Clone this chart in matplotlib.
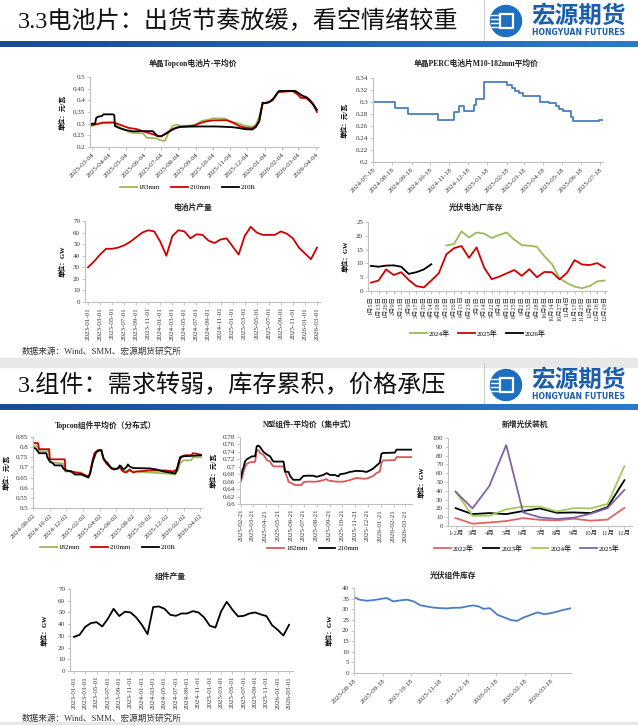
import numpy as np
import pandas as pd
import matplotlib
matplotlib.use('Agg')
import matplotlib.pyplot as plt
import matplotlib.ticker as mticker
from matplotlib.patches import Circle, Rectangle
from matplotlib.colors import LinearSegmentedColormap

plt.rcParams['font.family'] = ['Liberation Serif', 'Noto Sans CJK SC']
plt.rcParams['axes.unicode_minus'] = False

# ---------------- 数据 ----------------
# 单晶Topcon电池片-平均价
a_183_dates = ['2025-03-01', '2025-03-16', '2025-04-12', '2025-04-18', '2025-05-11', '2025-06-03', '2025-06-09',
               '2025-06-29', '2025-07-02', '2025-07-11', '2025-07-14', '2025-07-19', '2025-07-25', '2025-08-01',
               '2025-08-10', '2025-08-25', '2025-09-05', '2025-09-15', '2025-09-28', '2025-10-04', '2025-10-25',
               '2025-11-05', '2025-11-20', '2025-12-01', '2025-12-13', '2025-12-19', '2025-12-25', '2025-12-31',
               '2026-01-06', '2026-01-12', '2026-01-20', '2026-01-26', '2026-01-29', '2026-02-27', '2026-03-05',
               '2026-03-11', '2026-03-19', '2026-03-25', '2026-03-31', '2026-04-06']
a_183 = [0.29, 0.30, 0.305, 0.29, 0.262, 0.258, 0.24, 0.236, 0.23, 0.226, 0.24, 0.267, 0.29, 0.296, 0.29,
         0.292, 0.298, 0.312, 0.318, 0.323, 0.322, 0.31, 0.30, 0.29, 0.287, 0.295, 0.33, 0.385, 0.39, 0.392,
         0.41, 0.43, 0.44, 0.44, 0.43, 0.42, 0.415, 0.40, 0.385, 0.355]
a_210_dates = ['2025-03-01', '2025-03-07', '2025-03-16', '2025-03-25', '2025-04-12', '2025-04-18', '2025-04-27',
               '2025-05-08', '2025-05-22', '2025-06-03', '2025-06-20', '2025-06-29', '2025-07-05', '2025-07-14',
               '2025-07-26', '2025-08-06', '2025-08-18', '2025-09-02', '2025-09-11', '2025-09-23', '2025-10-04',
               '2025-10-28', '2025-11-08', '2025-11-20', '2025-12-01', '2025-12-13', '2025-12-19', '2025-12-25',
               '2025-12-31', '2026-01-06', '2026-01-18', '2026-01-27', '2026-02-22', '2026-03-03', '2026-03-09',
               '2026-03-18', '2026-03-25', '2026-03-31', '2026-04-06']
a_210 = [0.29, 0.295, 0.30, 0.305, 0.305, 0.30, 0.292, 0.282, 0.277, 0.267, 0.255, 0.246, 0.246, 0.26, 0.278,
         0.285, 0.288, 0.292, 0.302, 0.31, 0.314, 0.315, 0.305, 0.29, 0.282, 0.28, 0.29, 0.31, 0.385, 0.39,
         0.40, 0.435, 0.44, 0.425, 0.41, 0.41, 0.395, 0.38, 0.35]
a_210r_dates = ['2025-03-01', '2025-03-04', '2025-03-10', '2025-03-12', '2025-03-16', '2025-03-22', '2025-03-25',
                '2025-04-11', '2025-04-13', '2025-04-14', '2025-04-23', '2025-05-04', '2025-05-16', '2025-06-03',
                '2025-06-20', '2025-06-25', '2025-06-29', '2025-07-05', '2025-07-14', '2025-07-23', '2025-08-01',
                '2025-08-10', '2025-09-11', '2025-10-10', '2025-11-08', '2025-11-20', '2025-12-01', '2025-12-13',
                '2025-12-19', '2025-12-25', '2025-12-28', '2025-12-31', '2026-01-06', '2026-01-12', '2026-01-20',
                '2026-01-26', '2026-01-29', '2026-02-27', '2026-03-05', '2026-03-11', '2026-03-19', '2026-03-25',
                '2026-03-31', '2026-04-06']
a_210r = [0.295, 0.30, 0.30, 0.325, 0.33, 0.333, 0.34, 0.34, 0.335, 0.29, 0.28, 0.272, 0.267, 0.268, 0.268,
          0.255, 0.247, 0.246, 0.258, 0.272, 0.283, 0.287, 0.288, 0.288, 0.285, 0.281, 0.276, 0.275, 0.285,
          0.31, 0.35, 0.39, 0.388, 0.392, 0.41, 0.43, 0.44, 0.44, 0.43, 0.42, 0.412, 0.40, 0.38, 0.36]
a_ticks = ['2025-03-04', '2025-04-04', '2025-05-04', '2025-06-04', '2025-07-04', '2025-08-04', '2025-09-04',
           '2025-10-04', '2025-11-04', '2025-12-04', '2026-01-04', '2026-02-04', '2026-03-04', '2026-04-04']

# 单晶PERC电池片M10-182mm平均价
b_dates = ['2024-07-18', '2024-08-23', '2024-09-12', '2024-10-30', '2024-11-26', '2024-12-03', '2024-12-11',
           '2024-12-27', '2024-12-30', '2025-01-13', '2025-02-19', '2025-02-26', '2025-03-04', '2025-03-10',
           '2025-03-16', '2025-04-13', '2025-04-27', '2025-05-08', '2025-05-14', '2025-05-20', '2025-06-01',
           '2025-06-05', '2025-07-17', '2025-07-23']
b_price = [0.300, 0.290, 0.280, 0.270, 0.283, 0.294, 0.285, 0.295, 0.305, 0.333, 0.328, 0.323, 0.318, 0.315,
           0.310, 0.300, 0.298, 0.293, 0.288, 0.285, 0.275, 0.268, 0.270, 0.270]
b_ticks = ['2024-07-18', '2024-08-18', '2024-09-18', '2024-10-18', '2024-11-18', '2024-12-18', '2025-01-18',
           '2025-02-18', '2025-03-18', '2025-04-18', '2025-05-18', '2025-06-18', '2025-07-18']

# 电池片产量 (月度, 2023-01 ~ 2026-03)
c_output = [30, 35, 41, 46, 46, 47, 49, 52, 56, 60, 62, 61, 52, 40, 57, 62, 61, 55, 58.5, 58,
            53, 51, 54, 55, 48, 41, 57, 65, 60, 58, 58, 58, 61, 59, 55, 47, 42, 37, 47]
c_ticks = ['2023-01-01', '2023-03-01', '2023-05-01', '2023-07-01', '2023-09-01', '2023-11-01', '2024-01-01',
           '2024-03-01', '2024-05-01', '2024-07-01', '2024-09-01', '2024-11-01', '2025-01-01', '2025-03-01',
           '2025-05-01', '2025-07-01', '2025-09-01', '2025-11-01', '2026-01-01', '2026-03-01']

# 光伏电池厂库存
d_labels = ['1月5日', '1月13日', '1月26日', '2月9日', '2月23日', '3月9日', '3月17日', '3月30日', '4月14日',
            '4月28日', '5月12日', '5月26日', '6月11日', '6月23日', '7月1日', '7月14日', '7月22日', '8月4日',
            '8月12日', '8月25日', '9月2日', '9月15日', '9月28日', '10月8日', '10月14日', '10月27日', '11月4日',
            '11月17日', '11月25日', '12月8日', '12月16日', '12月29日']
d_2024_pos = list(range(10, 32))
d_2024 = [16.5, 17.0, 21.6, 19.4, 21.2, 20.8, 19.2, 20.3, 21.2, 18.6, 16.6, 16.4, 16.0, 12.6, 9.8,
          4.6, 2.9, 1.6, 1.0, 1.8, 3.5, 3.8]
d_2025_pos = list(range(0, 32))
d_2025 = [3.0, 3.8, 7.8, 5.8, 6.8, 4.0, 1.8, 1.3, 3.8, 6.5, 13.3, 15.5, 16.3, 12.0, 15.8, 8.5,
          4.3, 5.2, 6.4, 7.6, 5.5, 7.9, 5.0, 6.9, 6.8, 4.2, 6.6, 11.2, 9.6, 9.4, 10.1, 8.5]
d_2026_pos = list(range(0, 9))
d_2026 = [9.1, 8.8, 9.2, 9.3, 8.8, 6.2, 6.8, 7.8, 9.7]

# Topcon组件平均价（分布式）
e_182_dates = ['2024-08-02', '2024-08-20', '2024-08-24', '2024-09-30', '2024-10-02', '2024-11-20', '2024-11-26',
               '2024-12-20', '2024-12-21', '2025-01-26', '2025-02-02', '2025-02-20', '2025-02-26', '2025-03-08',
               '2025-03-20', '2025-04-02', '2025-04-08', '2025-04-17', '2025-04-26', '2025-05-20', '2025-06-14',
               '2025-06-26', '2025-08-02', '2025-10-02', '2025-12-02', '2026-01-02', '2026-01-14', '2026-01-20',
               '2026-02-02', '2026-03-02', '2026-03-08', '2026-04-08']
e_182 = [0.81, 0.80, 0.78, 0.78, 0.725, 0.72, 0.68, 0.68, 0.675, 0.675, 0.66, 0.655, 0.67, 0.73, 0.775,
         0.785, 0.785, 0.74, 0.72, 0.69, 0.70, 0.685, 0.68, 0.675, 0.67, 0.665, 0.69, 0.72, 0.735, 0.735,
         0.75, 0.75]
e_210_dates = ['2024-08-02', '2024-08-20', '2024-08-24', '2024-09-30', '2024-10-02', '2024-11-26', '2024-11-28',
               '2024-12-20', '2025-01-26', '2025-02-20', '2025-02-26', '2025-03-02', '2025-03-08', '2025-03-14',
               '2025-03-26', '2025-04-08', '2025-04-14', '2025-04-26', '2025-05-08', '2025-05-20', '2025-06-02',
               '2025-06-14', '2025-06-26', '2025-07-08', '2025-07-20', '2025-08-02', '2025-08-14', '2025-10-02',
               '2025-12-02', '2025-12-26', '2026-01-08', '2026-01-20', '2026-01-26', '2026-02-08', '2026-03-02',
               '2026-03-08', '2026-03-20', '2026-04-08']
e_210 = [0.82, 0.82, 0.79, 0.79, 0.74, 0.74, 0.685, 0.68, 0.67, 0.655, 0.67, 0.70, 0.74, 0.77, 0.785,
         0.785, 0.75, 0.72, 0.705, 0.695, 0.693, 0.70, 0.68, 0.675, 0.69, 0.675, 0.68, 0.685, 0.685, 0.68,
         0.69, 0.74, 0.755, 0.76, 0.76, 0.77, 0.768, 0.762]
e_210r_dates = ['2024-08-02', '2024-08-14', '2024-08-24', '2024-09-20', '2024-09-23', '2024-10-02', '2024-10-14',
                '2024-10-20', '2024-11-14', '2024-11-20', '2024-12-02', '2024-12-20', '2025-01-02', '2025-01-26',
                '2025-02-20', '2025-02-26', '2025-03-08', '2025-03-20', '2025-04-02', '2025-04-08', '2025-04-17',
                '2025-05-02', '2025-05-14', '2025-05-26', '2025-06-08', '2025-06-14', '2025-06-20', '2025-06-26',
                '2025-07-08', '2025-07-14', '2025-07-20', '2025-08-02', '2025-10-02', '2025-10-26', '2025-11-20',
                '2025-12-14', '2026-01-02', '2026-01-08', '2026-01-14', '2026-01-20', '2026-02-02', '2026-04-08']
e_210r = [0.80, 0.79, 0.77, 0.77, 0.75, 0.73, 0.72, 0.71, 0.71, 0.695, 0.685, 0.68, 0.665, 0.665, 0.65,
          0.67, 0.73, 0.775, 0.785, 0.785, 0.74, 0.72, 0.695, 0.69, 0.695, 0.71, 0.705, 0.69, 0.70, 0.715,
          0.705, 0.697, 0.695, 0.69, 0.68, 0.675, 0.67, 0.685, 0.72, 0.75, 0.755, 0.76]
e_ticks = ['2024-08-02', '2024-10-02', '2024-12-02', '2025-02-02', '2025-04-02', '2025-06-02', '2025-08-02',
           '2025-10-02', '2025-12-02', '2026-02-02', '2026-04-02']

# N型组件-平均价（集中式）
f_210_dates = ['2025-02-21', '2025-02-25', '2025-02-27', '2025-03-03', '2025-03-07', '2025-03-15', '2025-03-19',
               '2025-03-27', '2025-03-31', '2025-04-04', '2025-04-08', '2025-04-16', '2025-04-24', '2025-05-02',
               '2025-05-06', '2025-05-10', '2025-06-03', '2025-06-07', '2025-06-15', '2025-06-19', '2025-06-26',
               '2025-07-12', '2025-07-20', '2025-07-28', '2025-08-13', '2025-08-21', '2025-09-06', '2025-09-14',
               '2025-09-22', '2025-10-04', '2025-10-12', '2025-10-16', '2025-10-28', '2025-11-08', '2025-11-24',
               '2025-12-10', '2025-12-18', '2025-12-26', '2026-01-03', '2026-01-11', '2026-01-19', '2026-01-23',
               '2026-01-27', '2026-02-24', '2026-02-28', '2026-04-06']
f_210 = [0.669, 0.692, 0.696, 0.714, 0.72, 0.725, 0.728, 0.728, 0.755, 0.757, 0.753, 0.74, 0.733, 0.728,
         0.72, 0.714, 0.714, 0.687, 0.686, 0.675, 0.665, 0.665, 0.675, 0.676, 0.676, 0.673, 0.678, 0.683,
         0.678, 0.678, 0.674, 0.68, 0.682, 0.686, 0.689, 0.688, 0.686, 0.69, 0.695, 0.703, 0.711, 0.735,
         0.737, 0.738, 0.746, 0.746]
f_182_dates = ['2025-02-21', '2025-02-25', '2025-02-27', '2025-03-03', '2025-03-07', '2025-03-15', '2025-03-27',
               '2025-03-31', '2025-04-04', '2025-04-08', '2025-04-16', '2025-04-24', '2025-05-02', '2025-05-06',
               '2025-05-10', '2025-06-03', '2025-06-07', '2025-06-11', '2025-06-15', '2025-06-22', '2025-06-30',
               '2025-07-16', '2025-07-20', '2025-07-28', '2025-08-21', '2025-09-06', '2025-09-14', '2025-09-18',
               '2025-10-08', '2025-10-24', '2025-11-08', '2025-11-24', '2025-12-10', '2025-12-18', '2026-01-03',
               '2026-01-11', '2026-01-19', '2026-01-23', '2026-01-27', '2026-02-24', '2026-02-28', '2026-04-06']
f_182 = [0.66, 0.675, 0.685, 0.70, 0.708, 0.712, 0.713, 0.743, 0.745, 0.737, 0.732, 0.718, 0.714, 0.706,
         0.701, 0.701, 0.685, 0.674, 0.66, 0.656, 0.651, 0.651, 0.658, 0.66, 0.66, 0.664, 0.667, 0.663,
         0.66, 0.66, 0.664, 0.67, 0.668, 0.668, 0.675, 0.683, 0.687, 0.71, 0.717, 0.718, 0.726, 0.726]
f_ticks = ['2025-02-21', '2025-03-21', '2025-04-21', '2025-05-21', '2025-06-21', '2025-07-21', '2025-08-21',
           '2025-09-21', '2025-10-21', '2025-11-21', '2025-12-21', '2026-01-21', '2026-02-21', '2026-03-21']

# 新增光伏装机
g_months = ['1-2月', '3月', '4月', '5月', '6月', '7月', '8月', '9月', '10月', '11月', '12月']
g_2022 = [9, 2.6, 4, 5.6, 9, 7, 6.4, 8.3, 6, 7.3, 20.7]
g_2023 = [20.3, 13.5, 14.7, 13.5, 17, 20, 15, 15.4, 14.7, 21.4, 52]
g_2024 = [39, 11.7, 11.7, 19, 22, 22, 16.5, 20.3, 20, 25, 68]
g_2025 = [39, 20, 45.5, 92, 15.4, 9.8, 8, 9.4, 14, 20.3, 41]

# 组件产量 (月度, 2023-01 ~ 2026-03)
h_output = [29.1, 30.9, 37.7, 40.9, 41.7, 38, 44.6, 53.1, 46.9, 50.6, 50, 45.7, 39.4, 31.4, 54.6, 55.1,
            53.1, 48, 47.1, 49.1, 49.1, 51.1, 50, 45.7, 38.6, 37.1, 50.9, 59.1, 52.3, 46.6, 47.1, 49.1,
            50, 48.3, 46.9, 39.1, 35.1, 30.3, 39.4]
h_ticks = c_ticks

# 光伏组件库存
i_dates = ['2025-08-18', '2025-08-24', '2025-09-01', '2025-09-08', '2025-09-15', '2025-09-22', '2025-09-29',
           '2025-10-07', '2025-10-14', '2025-10-21', '2025-10-28', '2025-11-04', '2025-11-11', '2025-11-19',
           '2025-11-26', '2025-12-03', '2025-12-10', '2025-12-17', '2025-12-24', '2025-12-30', '2026-01-04',
           '2026-01-11', '2026-01-19', '2026-01-26', '2026-02-02', '2026-02-09', '2026-02-16', '2026-02-24',
           '2026-03-03', '2026-03-10', '2026-03-17', '2026-03-24', '2026-03-31', '2026-04-08']
i_stock = [35.7, 34.5, 34.0, 34.3, 34.8, 35.3, 33.7, 34.2, 34.5, 33.7, 31.9, 31.3, 30.8, 30.5, 30.4, 30.7,
           30.7, 31.3, 31.8, 31.3, 30.2, 30.5, 27.4, 26.2, 25.0, 24.5, 26.1, 27.4, 28.5, 27.7, 28.1, 28.9,
           29.7, 30.5]
i_ticks = ['2025-08-18', '2025-09-18', '2025-10-18', '2025-11-18', '2025-12-18', '2026-01-18', '2026-02-18',
           '2026-03-18']

GREEN = '#9BBB59'
RED = '#D10000'
BLUE = '#4A7EC2'
SALMON = '#D9585A'
PURPLE = '#8064A2'

W, H = 638, 725
fig = plt.figure(figsize=(W / 100, H / 100), dpi=100)
fig.patch.set_facecolor('white')

# 背景层: 标题、logo、色条
bg = fig.add_axes([0, 0, 1, 1], zorder=-5)
bar_cmap = LinearSegmentedColormap.from_list('bar', ['#1B4A96', '#2C7ACB'])
grad = np.linspace(0, 1, 256).reshape(1, -1)


def header(yc, bar_top, title):
    bg.text(18, yc, title, fontsize=17.4, va='center', ha='left', color='#111111')
    bg.plot([484, 484], [yc - 22, bar_top - 1], color='#CFCFCF', lw=0.8)
    bg.imshow(grad, extent=(0, W, bar_top + 6, bar_top), aspect='auto', cmap=bar_cmap)
    bg.add_patch(Circle((506, yc), 15.5, color='#1E6FC0'))
    for dy in (-6, -2, 2, 6):
        bg.plot([491, 499], [yc + dy, yc + dy], color='white', lw=1.0)
    bg.add_patch(Rectangle((500, yc - 7), 13, 14, facecolor='#1E6FC0', edgecolor='white', lw=1.6))
    bg.text(579, yc - 5, '宏源期货', fontsize=17, fontweight='bold', color='#1B5EAB',
            family='Noto Sans CJK SC', ha='center', va='center')
    bg.text(579, yc + 11, 'HONGYUAN FUTURES', fontsize=5.6, fontweight='bold', color='#1B5EAB',
            family='DejaVu Sans', ha='center', va='center')


header(21, 41, '3.3电池片：出货节奏放缓，看空情绪较重')
header(385, 404, '3.组件：需求转弱，库存累积，价格承压')
bg.add_patch(Rectangle((0, 358), W, 9, color='#E8E8E8'))
bg.add_patch(Rectangle((0, 722), W, 3, color='#E8E8E8'))
bg.text(22, 351, '数据来源：Wind、SMM、宏源期货研究所', fontsize=6.2, va='center', color='#333333')
bg.text(22, 718, '数据来源：Wind、SMM、宏源期货研究所', fontsize=6.2, va='center', color='#333333')
bg.set_xlim(0, W)
bg.set_ylim(H, 0)
bg.axis('off')


def make_ax(x0, y0, x1, y1):
    ax = fig.add_axes([x0 / W, 1 - y1 / H, (x1 - x0) / W, (y1 - y0) / H])
    ax.set_facecolor('none')
    for s in ('top', 'right'):
        ax.spines[s].set_visible(False)
    for s in ('left', 'bottom'):
        ax.spines[s].set_color('#BFBFBF')
        ax.spines[s].set_linewidth(0.8)
    ax.tick_params(labelsize=5, length=2, width=0.6, color='#BFBFBF', pad=1.5, labelcolor='#333333')
    return ax


def finish(ax, title, tx, ty, ylab, lx):
    bg.text(tx, ty, title, ha='center', va='center', fontsize=5.6, fontweight='bold', color='#222222')
    ax.set_ylabel(ylab, fontsize=4.8, fontweight='bold')
    pos = ax.get_position()
    ax.yaxis.set_label_coords(lx / W, pos.y0 + pos.height / 2, transform=fig.transFigure)


def legend(ax, cx, cy, n, cs=1.6):
    ax.legend(loc='center', bbox_to_anchor=(cx / W, 1 - cy / H), bbox_transform=fig.transFigure, ncol=n,
              frameon=False, fontsize=5, handlelength=2.4, columnspacing=cs, handletextpad=0.3)


def date_ticks(ax, ticks, rot):
    ax.set_xticks(pd.to_datetime(ticks))
    if rot == 45:
        ax.set_xticklabels(ticks, rotation=45, ha='right', rotation_mode='anchor')
    else:
        ax.set_xticklabels(ticks, rotation=90, ha='center', va='top')


fmt = mticker.FormatStrFormatter('%g')

# A 单晶Topcon电池片-平均价
ax = make_ax(90, 77, 318, 147)
ax.plot(pd.to_datetime(a_183_dates), a_183, color=GREEN, lw=1.3, label='183mm')
ax.plot(pd.to_datetime(a_210_dates), a_210, color=RED, lw=1.3, label='210mm')
ax.plot(pd.to_datetime(a_210r_dates), a_210r, color='black', lw=1.3, label='210R')
ax.set_xlim(pd.Timestamp('2025-03-01'), pd.Timestamp('2026-04-08'))
ax.set_ylim(0.2, 0.5)
ax.set_yticks([0.2, 0.25, 0.3, 0.35, 0.4, 0.45, 0.5])
ax.yaxis.set_major_formatter(fmt)
date_ticks(ax, a_ticks, 45)
finish(ax, '单晶Topcon电池片-平均价', 193, 63, '单位：元/瓦', 66)
legend(ax, 188, 187, 3)

# B 单晶PERC电池片M10-182mm平均价
ax = make_ax(373, 78, 603, 162)
ax.step(pd.to_datetime(b_dates), b_price, where='post', color=BLUE, lw=1.3)
ax.set_xlim(pd.Timestamp('2024-07-18'), pd.Timestamp('2025-07-23'))
ax.set_ylim(0.2, 0.34)
ax.set_yticks([0.2, 0.22, 0.24, 0.26, 0.28, 0.3, 0.32, 0.34])
ax.yaxis.set_major_formatter(fmt)
date_ticks(ax, b_ticks, 45)
finish(ax, '单晶PERC电池片M10-182mm平均价', 476, 64, '单位：元/瓦', 348)

# C 电池片产量
ax = make_ax(85, 221, 320, 302)
ax.plot(range(len(c_output)), c_output, color=RED, lw=1.3)
ax.set_xlim(-0.5, 38.5)
ax.set_ylim(0, 70)
ax.set_yticks(range(0, 71, 10))
ax.set_xticks(range(0, 39, 2))
ax.set_xticklabels(c_ticks, rotation=90, ha='center', va='top')
finish(ax, '电池片产量', 193, 208, '单位：GW', 66)

# D 光伏电池厂库存
ax = make_ax(368, 222, 607, 291)
ax.plot(d_2024_pos, d_2024, color=GREEN, lw=1.3, label='2024年')
ax.plot(d_2025_pos, d_2025, color=RED, lw=1.3, label='2025年')
ax.plot(d_2026_pos, d_2026, color='black', lw=1.3, label='2026年')
ax.set_xlim(-0.4, 31.3)
ax.set_ylim(0, 25)
ax.set_yticks(range(0, 26, 5))
ax.set_xticks(range(len(d_labels)))
ax.set_xticklabels(d_labels, rotation=90, ha='center', va='top', fontsize=4.5)
finish(ax, '光伏电池厂库存', 476, 208, '单位：GW', 349)
legend(ax, 478, 333, 3, cs=1.2)

# E Topcon组件平均价（分布式）
ax = make_ax(33, 437, 202, 508)
ax.plot(pd.to_datetime(e_182_dates), e_182, color=GREEN, lw=1.3, label='182mm')
ax.plot(pd.to_datetime(e_210_dates), e_210, color=RED, lw=1.3, label='210mm')
ax.plot(pd.to_datetime(e_210r_dates), e_210r, color='black', lw=1.3, label='210R')
ax.set_xlim(pd.Timestamp('2024-08-02'), pd.Timestamp('2026-04-10'))
ax.set_ylim(0.5, 0.85)
ax.set_yticks([0.5, 0.55, 0.6, 0.65, 0.7, 0.75, 0.8, 0.85])
ax.yaxis.set_major_formatter(fmt)
date_ticks(ax, e_ticks, 45)
finish(ax, 'Topcon组件平均价（分布式）', 106, 425, '单位：元/瓦', 10)
legend(ax, 108, 547, 3)

# F N型组件-平均价（集中式）
ax = make_ax(240, 437, 412, 504)
ax.plot(pd.to_datetime(f_182_dates), f_182, color=SALMON, lw=1.3, label='182mm')
ax.plot(pd.to_datetime(f_210_dates), f_210, color='black', lw=1.3, label='210mm')
ax.set_xlim(pd.Timestamp('2025-02-19'), pd.Timestamp('2026-04-06'))
ax.set_ylim(0.6, 0.78)
ax.set_yticks([0.6, 0.62, 0.64, 0.66, 0.68, 0.7, 0.72, 0.74, 0.76, 0.78])
ax.yaxis.set_major_formatter(fmt)
date_ticks(ax, f_ticks, 90)
finish(ax, 'N型组件-平均价（集中式）', 310, 425, '单位：元/瓦', 217)
legend(ax, 313, 548, 2)

# G 新增光伏装机
ax = make_ax(448, 438, 632, 526)
ax.plot(range(11), g_2022, color='#E06464', lw=1.3, label='2022年')
ax.plot(range(11), g_2023, color='black', lw=1.3, label='2023年')
ax.plot(range(11), g_2024, color='#A3C95E', lw=1.3, label='2024年')
ax.plot(range(11), g_2025, color=PURPLE, lw=1.3, label='2025年')
ax.set_xlim(-0.45, 10.45)
ax.set_ylim(0, 100)
ax.set_yticks(range(0, 101, 10))
ax.set_xticks(range(11))
ax.set_xticklabels(g_months, fontsize=4.7)
finish(ax, '新增光伏装机', 525, 425, '单位：GW', 425)
legend(ax, 527, 548, 4, cs=1.3)

# H 组件产量
ax = make_ax(70, 589, 293, 671)
ax.plot(range(len(h_output)), h_output, color='black', lw=1.3)
ax.set_xlim(-0.7, 38.7)
ax.set_ylim(0, 70)
ax.set_yticks(range(0, 71, 10))
ax.set_xticks(range(0, 39, 2))
ax.set_xticklabels(h_ticks, rotation=90, ha='center', va='top')
finish(ax, '组件产量', 170, 577, '单位：GW', 48)

# I 光伏组件库存
ax = make_ax(354, 588, 571, 673)
ax.plot(pd.to_datetime(i_dates), i_stock, color=BLUE, lw=1.3)
ax.set_xlim(pd.Timestamp('2025-08-18'), pd.Timestamp('2026-04-08'))
ax.set_ylim(0, 40)
ax.set_yticks(range(0, 41, 5))
date_ticks(ax, i_ticks, 45)
finish(ax, '光伏组件库存', 453, 576, '单位：GW', 333)

fig.savefig('out.png', dpi=100)
